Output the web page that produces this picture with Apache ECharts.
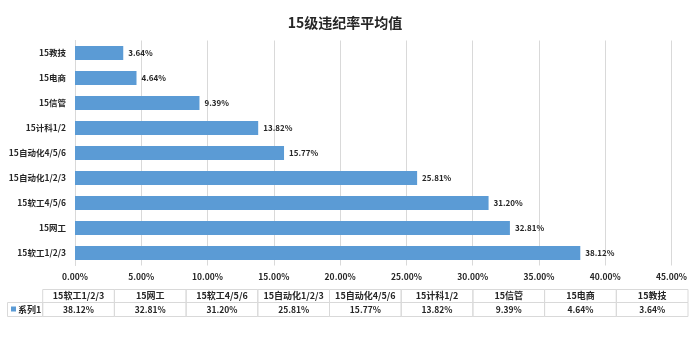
<!DOCTYPE html>
<html><head><meta charset="utf-8">
<script src="https://cdn.jsdelivr.net/npm/echarts@6/dist/echarts.min.js"></script>
<style>html,body{margin:0;padding:0;background:#fff}#c{width:690px;height:358px}</style>
</head><body><div id="c"></div>
<script>
const titleText = '15级违纪率平均值';
const categories = ['15软工1/2/3','15网工','15软工4/5/6','15自动化1/2/3','15自动化4/5/6','15计科1/2','15信管','15电商','15教技'];
const values = [38.12, 32.81, 31.20, 25.81, 15.77, 13.82, 9.39, 4.64, 3.64];
const seriesName = '系列1';
const xTicks = {min: 0, max: 45, interval: 5};

const FONT = '"Noto Sans CJK SC", "Noto Sans", sans-serif';
const fmt = v => Number(v).toFixed(2) + '%';

// table layout
const tblLeft = 42.7, tblRight = 688, legLeft = 7.5;
const rowTop = 289.5, rowMid = 302.5, rowBot = 316.5;
const colW = (tblRight - tblLeft) / categories.length;
const graphics = [];
const border = '#D9D9D9';
categories.forEach((c, i) => {
  const x = tblLeft + i * colW;
  graphics.push({type:'rect', shape:{x:x, y:rowTop, width:colW, height:rowMid-rowTop}, style:{fill:'none', stroke:border, lineWidth:1}, silent:true});
  graphics.push({type:'text', x:x+colW/2, y:(rowTop+rowMid)/2, style:{text:c, fill:'#262626', font:'bold 9px '+FONT, align:'center', verticalAlign:'middle'}, silent:true});
  graphics.push({type:'rect', shape:{x:x, y:rowMid, width:colW, height:rowBot-rowMid}, style:{fill:'none', stroke:border, lineWidth:1}, silent:true});
  graphics.push({type:'text', x:x+colW/2, y:(rowMid+rowBot)/2, style:{text:fmt(values[i]), fill:'#262626', font:'bold 8.5px '+FONT, align:'center', verticalAlign:'middle'}, silent:true});
});
graphics.push({type:'rect', shape:{x:legLeft, y:rowMid, width:tblLeft-legLeft, height:rowBot-rowMid}, style:{fill:'none', stroke:border, lineWidth:1}, silent:true});
graphics.push({type:'rect', shape:{x:11, y:306.5, width:5, height:5}, style:{fill:'#5B9BD5'}, silent:true});
graphics.push({type:'text', x:18, y:(rowMid+rowBot)/2, style:{text:seriesName, fill:'#262626', font:'bold 9px '+FONT, align:'left', verticalAlign:'middle'}, silent:true});

const chart = echarts.init(document.getElementById('c'));
chart.setOption({
  animation: false,
  textStyle: {fontFamily: FONT},
  title: {text: titleText, left: 'center', top: 11, textStyle: {fontSize: 14, fontWeight: 'bold', color: '#262626', fontFamily: FONT}},
  grid: {left: 75, right: 16, top: 40.5, height: 225, containLabel: false},
  xAxis: {
    type: 'value', min: xTicks.min, max: xTicks.max, interval: xTicks.interval,
    axisLine: {show: false}, axisTick: {show: false},
    splitLine: {lineStyle: {color: '#D9D9D9', width: 1}},
    axisLabel: {formatter: fmt, fontSize: 8.5, color: '#262626', fontWeight: 'bold', margin: 7, fontFamily: FONT}
  },
  yAxis: {
    type: 'category', data: categories,
    axisLine: {show: true, lineStyle: {color: '#D9D9D9'}}, axisTick: {show: false},
    axisLabel: {fontSize: 8.5, color: '#262626', margin: 9, fontWeight: 'bold', fontFamily: FONT}
  },
  series: [{
    name: seriesName, type: 'bar', data: values,
    barCategoryGap: '44%',
    itemStyle: {color: '#5B9BD5'},
    label: {show: true, position: 'right', distance: 5, formatter: p => fmt(p.value), fontSize: 8, fontWeight: 'bold', color: '#262626', fontFamily: FONT}
  }],
  graphic: graphics
});
</script></body></html>
